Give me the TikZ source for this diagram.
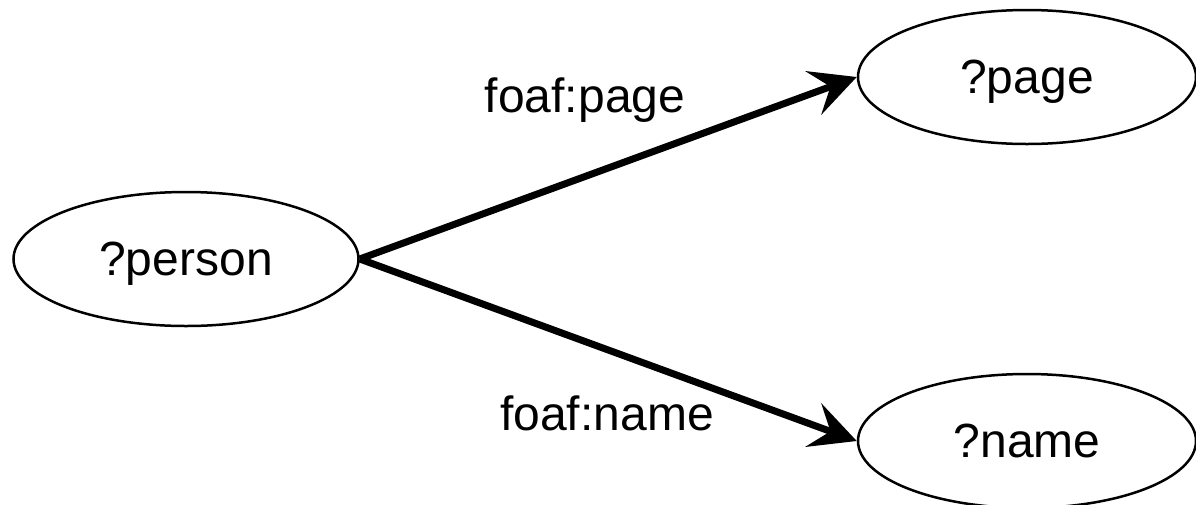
\documentclass[tikz,border=0pt]{standalone}
\usepackage{fontspec}
\setmainfont{Liberation Sans}
\usetikzlibrary{shapes.geometric, arrows.meta, positioning}

\begin{document}
\begin{tikzpicture}[x=1pt, y=-1pt, >={Stealth[length=46pt, width=46pt, inset=18pt]},
    font=\fontsize{48}{58}\selectfont,
    var/.style={draw, ellipse, line width=2.5pt, minimum width=338pt, minimum height=134pt, inner sep=0pt, text depth=0pt, fill=white},
    pred/.style={->, line width=7pt},
    lbl/.style={anchor=base}]
    \useasboundingbox (0,0) rectangle (1196,504);
    \node[var, minimum width=345pt] (person) at (186,259) {?person};
    \node[var] (page) at (1027,77) {?page};
    \node[var] (name) at (1027,441) {?name};

    \draw[pred] (person.east) -- (page.west);
    \draw[pred] (person.east) -- (name.west);

    \node[lbl] (pagelbl) at (585,112) {foaf:page};
    \node[lbl] (namelbl) at (607,430) {foaf:name};
\end{tikzpicture}
\end{document}
